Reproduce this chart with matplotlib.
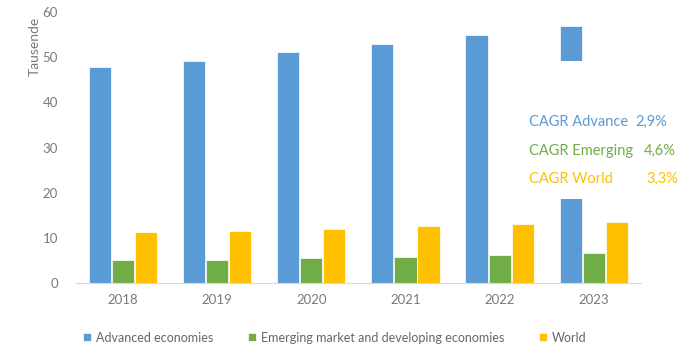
import matplotlib.pyplot as plt
from matplotlib.patches import Rectangle
import numpy as np

plt.rcParams['font.family'] = ['Lato', 'DejaVu Sans']

# Data (thousands)
years = ['2018', '2019', '2020', '2021', '2022', '2023']
advanced = [47.8, 49.1, 51.2, 53.0, 54.9, 56.9]
emerging = [5.2, 5.2, 5.5, 5.8, 6.2, 6.6]
world = [11.3, 11.6, 11.9, 12.6, 13.0, 13.6]
series_names = ['Advanced economies', 'Emerging market and developing economies', 'World']
cagr_labels = ['CAGR Advance', 'CAGR Emerging', 'CAGR World']
cagr_values = ['2,9%', '4,6%', '3,3%']

colors = ['#5B9BD5', '#70AD47', '#FFC000']
grey = '#7A7A7A'

fig = plt.figure(figsize=(6.86, 3.5), dpi=100)
ax = fig.add_axes([0.111, 0.191, 0.823, 0.775])

x = np.arange(len(years))
w = 0.235
off = 0.245
for i, (vals, name) in enumerate(zip([advanced, emerging, world], series_names)):
    ax.bar(x + (i - 1) * off, vals, w, color=colors[i], label=name,
           edgecolor='white', linewidth=0.5)

ax.set_xlim(-0.5, 5.5)
ax.set_ylim(0, 60)
ax.set_yticks(range(0, 61, 10))
ax.set_xticks(x)
ax.set_xticklabels(years)
ax.tick_params(axis='both', length=0, labelsize=9.5, colors=grey)
ax.tick_params(axis='x', pad=8)
ax.tick_params(axis='y', pad=13)
for s in ['top', 'right', 'left']:
    ax.spines[s].set_visible(False)
ax.spines['bottom'].set_color('#D9D9D9')
ax.set_ylabel('Tausende', fontsize=10, color=grey, va='center')
ax.yaxis.set_label_coords(-0.074, 0.873)

# white box behind the CAGR notes
fig.patches.append(Rectangle((0.758, 0.431), 0.242, 0.395, transform=fig.transFigure,
                             facecolor='white', edgecolor='none', zorder=1))
row_y = [122, 151, 179]
val_x = [635, 644, 646]
for lab, val, c, yy, vx in zip(cagr_labels, cagr_values, colors, row_y, val_x):
    fig.text(529 / 686, 1 - yy / 350, lab, color=c, fontsize=10.5, va='center', zorder=2)
    fig.text(vx / 686, 1 - yy / 350, val, color=c, fontsize=10.5, va='center', zorder=2)

leg = fig.legend(loc='center', bbox_to_anchor=(0.488, 0.035), ncol=3, frameon=False,
                 fontsize=9, handlelength=0.6, handleheight=0.6, handletextpad=0.4,
                 columnspacing=2.8)
for t in leg.get_texts():
    t.set_color('#666666')

fig.savefig('out.png', dpi=100)
